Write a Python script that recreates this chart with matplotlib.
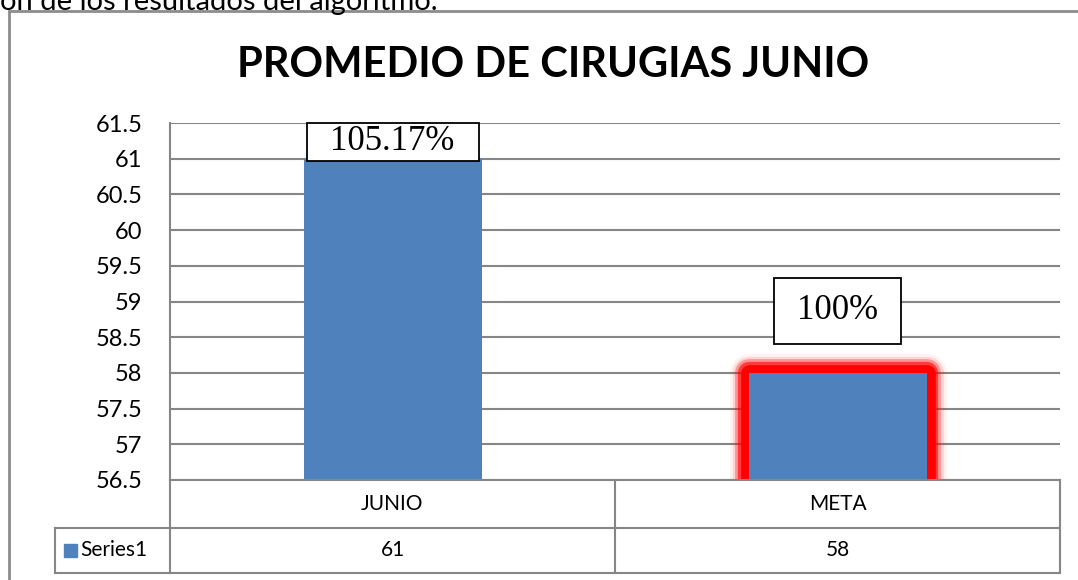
import matplotlib
matplotlib.use("Agg")
import matplotlib.pyplot as plt
import matplotlib.patheffects as pe
from matplotlib.patches import Rectangle

# data
categories = ["JUNIO", "META"]
values = [61, 58]
series_name = "Series1"
pct_labels = ["105.17%", "100%"]
yticks = [56.5, 57, 57.5, 58, 58.5, 59, 59.5, 60, 60.5, 61, 61.5]
chart_title = "PROMEDIO DE CIRUGIAS JUNIO"
doc_text = "ón de los resultados del algoritmo."

W, H = 1078, 580
BLUE = "#4f81bd"
GRAY = "#868686"
plt.rcParams["font.family"] = ["Lato", "DejaVu Sans"]

fig = plt.figure(figsize=(W / 100, H / 100), dpi=100)


def fx(x):
    return x / W


def fy(y):
    return 1 - y / H


# clipped line of the surrounding document (only its lower part is in view)
fig.text(fx(0), fy(10), doc_text, fontsize=21, va="baseline", ha="left", color="black")

# outer chart frame
fig.patches.append(Rectangle((fx(9), fy(600)), fx(1085) - fx(9), fy(11) - fy(600),
                             transform=fig.transFigure, fill=False,
                             edgecolor="#8c8c8c", lw=2, zorder=0))

fig.text(fx(553), fy(65), chart_title, fontsize=30, fontweight="bold",
         ha="center", va="center")

# plot area in pixels
L, R, T, B = 170, 1060, 123, 480
ax = fig.add_axes([fx(L), fy(B), fx(R) - fx(L), fy(T) - fy(B)])
ax.set_xlim(-0.5, len(categories) - 0.5)
ax.set_ylim(yticks[0], yticks[-1])
ax.set_yticks(yticks)
ax.set_yticklabels([f"{v:g}" for v in yticks], fontsize=17)
ax.set_xticks([])
ax.tick_params(axis="y", length=0, pad=20)
for s in ["top", "right", "bottom"]:
    ax.spines[s].set_visible(False)
ax.spines["left"].set_color(GRAY)
ax.spines["left"].set_linewidth(1.5)
ax.grid(axis="y", color=GRAY, lw=1.5)
ax.set_axisbelow(True)

# red glow behind the target bar, then the bars on top
halo = ax.bar([1], [values[1]], width=0.4, facecolor="none", edgecolor="red",
              linewidth=12, zorder=2)
halo[0].set_joinstyle("round")
halo[0].set_path_effects([pe.Stroke(linewidth=w, foreground="red", alpha=a)
                          for w, a in [(28, 0.05), (24, 0.12), (20, 0.3), (16, 0.6)]]
                         + [pe.Normal()])
bars = ax.bar(range(len(values)), values, width=0.4, color=BLUE, zorder=3)

# label boxes (px sizes / offset of centre above bar top)
px_x = len(categories) / (R - L)
px_y = (yticks[-1] - yticks[0]) / (B - T)
box_specs = [(172, 38, 17), (127, 66, 62)]
for i, (lab, (bw, bh, off)) in enumerate(zip(pct_labels, box_specs)):
    cy = values[i] + off * px_y
    ax.add_patch(Rectangle((i - bw * px_x / 2, cy - bh * px_y / 2), bw * px_x, bh * px_y,
                           facecolor="white", edgecolor="black", lw=1.3, zorder=5,
                           clip_on=False))
    ax.text(i, cy, lab, ha="center", va="center", fontsize=25,
            family="Liberation Serif", zorder=6)

# data table under the plot
r1, r2, r3 = 480, 528, 573
leg_left = 55
mid = (L + R) / 2
tab = dict(color=GRAY, lw=1.5, transform=fig.transFigure)
fig.add_artist(plt.Line2D([fx(L), fx(R)], [fy(r1), fy(r1)], **tab))
fig.add_artist(plt.Line2D([fx(leg_left), fx(R)], [fy(r2), fy(r2)], **tab))
fig.add_artist(plt.Line2D([fx(leg_left), fx(R)], [fy(r3), fy(r3)], **tab))
for x, top in [(leg_left, r2), (L, r1), (mid, r1), (R, r1)]:
    fig.add_artist(plt.Line2D([fx(x), fx(x)], [fy(top), fy(r3)], **tab))

for i, (cat, v) in enumerate(zip(categories, values)):
    cx = L + (R - L) * (i + 0.5) / len(categories)
    fig.text(fx(cx), fy((r1 + r2) / 2), cat, ha="center", va="center", fontsize=15)
    fig.text(fx(cx), fy((r2 + r3) / 2), f"{v:g}", ha="center", va="center", fontsize=15)

fig.patches.append(Rectangle((fx(64), fy(557)), fx(77) - fx(64), fy(544) - fy(557),
                             transform=fig.transFigure, color=BLUE))
fig.text(fx(80), fy((r2 + r3) / 2), series_name, ha="left", va="center", fontsize=15)

fig.savefig("out.png", dpi=100)
